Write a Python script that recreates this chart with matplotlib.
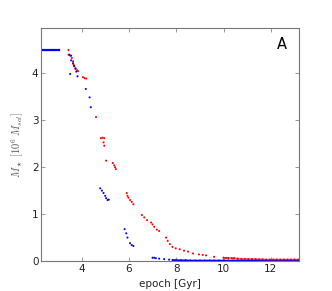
import numpy as np
import matplotlib
matplotlib.use("Agg")
import matplotlib.pyplot as plt

plt.rcParams['mathtext.fontset'] = 'cm'
plt.rcParams['font.family'] = ['DejaVu Sans']

# red population: epoch [Gyr], stellar mass [1e6 Msol]
red_t = [3.45, 3.45, 3.52, 3.59, 3.64, 3.66, 3.69, 3.75, 3.81, 3.85,
         4.06, 4.13, 4.20, 4.61, 4.82, 4.89, 4.96, 4.93, 4.96, 5.04,
         5.32, 5.38, 5.42, 5.45, 5.91, 5.94, 5.98, 6.05, 6.12, 6.19,
         6.55, 6.65, 6.77, 6.94, 7.00, 7.07, 7.18, 7.28, 7.57, 7.64,
         7.73, 7.84, 7.98, 8.15, 8.33, 8.50, 8.71, 8.96, 9.12, 9.26,
         9.60, 10.00, 10.10, 10.20, 10.35, 10.45, 10.60, 10.75, 10.90, 11.05,
         11.20, 11.35, 11.50, 11.65, 11.80, 11.95, 12.10, 12.25, 12.40, 12.55,
         12.70, 12.85, 13.00, 13.15]
red_m = [4.50, 4.40, 4.38, 4.33, 4.26, 4.19, 4.15, 4.11, 4.07, 4.05,
         3.92, 3.90, 3.89, 3.07, 2.62, 2.63, 2.62, 2.53, 2.46, 2.14,
         2.09, 2.04, 2.00, 1.96, 1.45, 1.39, 1.35, 1.30, 1.26, 1.21,
         0.98, 0.93, 0.87, 0.82, 0.78, 0.73, 0.67, 0.64, 0.50, 0.43,
         0.36, 0.30, 0.27, 0.25, 0.22, 0.20, 0.16, 0.14, 0.13, 0.12,
         0.09, 0.07, 0.065, 0.065, 0.06, 0.06, 0.05, 0.045, 0.045, 0.04,
         0.04, 0.04, 0.035, 0.035, 0.03, 0.03, 0.03, 0.03, 0.03, 0.03,
         0.03, 0.03, 0.03, 0.03]

# blue population
blue_t = [2.32, 2.38, 2.44, 2.50, 2.56, 2.62, 2.68, 2.74, 2.80, 2.86,
          2.92, 2.98, 3.04, 3.49, 3.56, 3.56, 3.64, 3.69, 3.74, 3.78,
          3.52, 3.83, 4.18, 4.34, 4.39, 4.79, 4.86, 4.93, 5.00, 5.04,
          5.10, 5.15, 5.82, 5.89, 5.94, 6.05, 6.12, 6.19, 7.00, 7.07,
          7.14, 7.28, 7.49, 7.70, 7.85, 8.00, 8.20, 8.40, 8.60, 8.80,
          9.00, 9.20, 9.40, 9.60, 9.80, 10.00, 10.20, 10.40, 10.60, 10.80,
          11.00, 11.20, 11.40, 11.60, 11.80, 12.00, 12.20, 12.40, 12.60, 12.80,
          13.00, 13.18]
blue_m = [4.50, 4.50, 4.50, 4.50, 4.50, 4.50, 4.50, 4.50, 4.50, 4.50,
          4.50, 4.50, 4.50, 4.40, 4.38, 4.28, 4.22, 4.16, 4.10, 4.04,
          3.99, 3.94, 3.67, 3.49, 3.28, 1.55, 1.50, 1.45, 1.39, 1.34,
          1.30, 1.31, 0.68, 0.59, 0.50, 0.38, 0.34, 0.32, 0.07, 0.07,
          0.06, 0.05, 0.04, 0.03, 0.02, 0.02, 0.015, 0.015, 0.01, 0.01,
          0.01, 0.01, 0.01, 0.01, 0.01, 0.01, 0.01, 0.01, 0.01, 0.01,
          0.01, 0.01, 0.01, 0.01, 0.01, 0.01, 0.01, 0.01, 0.01, 0.01,
          0.01, 0.01]

fig = plt.figure(figsize=(3.32, 2.91), dpi=100)
ax = fig.add_axes([41.3 / 332, 1 - 261 / 291, 258 / 332, 233 / 291])

ax.scatter(red_t, red_m, s=2.2, c='red', edgecolors='none')
ax.scatter(blue_t, blue_m, s=2.2, c='blue', edgecolors='none')
# dense flat segments drawn as lines
ax.plot(blue_t[:13], blue_m[:13], color='blue', lw=1.6)
ax.plot(blue_t[44:], blue_m[44:], color='blue', lw=1.2)
ax.plot(red_t[51:], red_m[51:], color='red', lw=1.2, alpha=0.6)

ax.set_xlim(2.3, 13.2)
ax.set_ylim(0, 4.97)
ax.set_xticks([4, 6, 8, 10, 12])
ax.set_yticks([0, 1, 2, 3, 4])
ax.tick_params(direction='in', top=True, right=True, length=3, width=0.6,
               colors='#888888', labelcolor='#222222', labelsize=7.5, pad=2)
for sp in ax.spines.values():
    sp.set_color('#777777')
    sp.set_linewidth(0.8)

ax.set_xlabel('epoch [Gyr]', fontsize=7.5, color='#222222', labelpad=4)
ax.set_ylabel(r'$M_\star\ [10^6\ M_{sol}]$', fontsize=7.5, color='#555555', labelpad=4)
ax.text(0.95, 0.93, 'A', transform=ax.transAxes, ha='right', va='center',
        fontsize=10.5, color='black')

fig.savefig('out.png', dpi=100)
